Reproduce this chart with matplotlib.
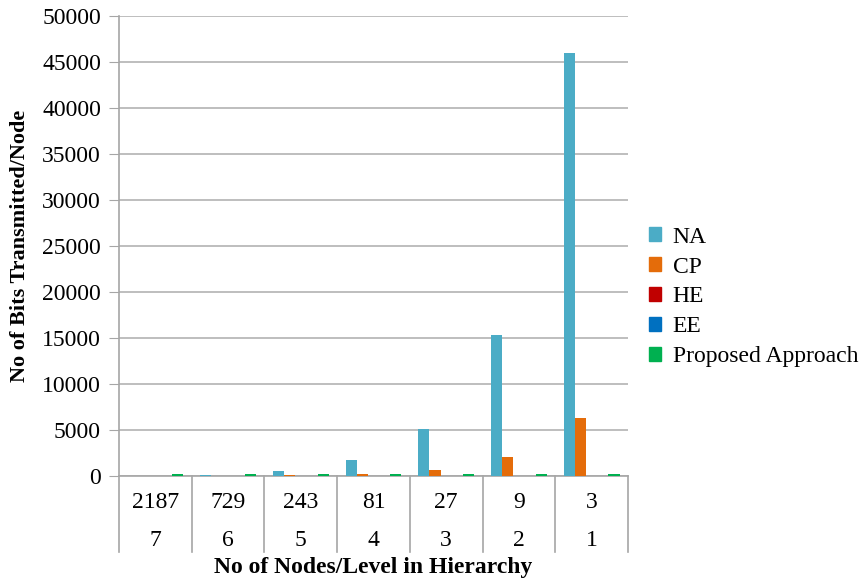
import numpy as np
from matplotlib import pyplot as plt
from matplotlib.patches import Patch
import matplotlib.transforms as mtransforms

plt.rcParams['font.family'] = ['Liberation Serif', 'DejaVu Serif']

# data
nodes = ['2187', '729', '243', '81', '27', '9', '3']
levels = ['7', '6', '5', '4', '3', '2', '1']
series = ['NA', 'CP', 'HE', 'EE', 'Proposed Approach']
na = [7, 63, 567, 1701, 5103, 15309, 45927]
cp = [9, 26, 78, 233, 700, 2100, 6318]
he = [10, 10, 10, 10, 10, 10, 10]
ee = [10, 10, 10, 10, 10, 10, 10]
proposed = [200, 200, 200, 200, 200, 200, 200]
colors = ['#4BACC6', '#E46C0A', '#C00000', '#0070C0', '#00B050']

fig = plt.figure(figsize=(8.67, 5.83), dpi=100)
ax = fig.add_axes([119/867, 1-476/583, (628-119)/867, (476-16)/583])

x = np.arange(len(nodes))
bw = 1/6.5
for i, (vals, c) in enumerate(zip([na, cp, he, ee, proposed], colors)):
    ax.bar(x + (i-2)*bw, vals, bw, color=c, zorder=3)

ax.set_xlim(-0.5, 6.5)
ax.set_ylim(0, 50000)
ax.set_yticks(np.arange(0, 50001, 5000))
ax.yaxis.grid(True, color='#b3b3b3', linewidth=1.2, zorder=0)
for s in ['top', 'right']:
    ax.spines[s].set_visible(False)
ax.spines['left'].set_color('#a6a6a6')
ax.spines['bottom'].set_color('#a6a6a6')
ax.spines['left'].set_linewidth(1.2)
ax.spines['bottom'].set_linewidth(1.2)
ax.tick_params(axis='y', length=7, color='#a6a6a6', labelsize=17, pad=6)
ax.set_xticks([])

# category table below axis
trans = mtransforms.blended_transform_factory(ax.transData, ax.transAxes)
for b in np.arange(-0.5, 7, 1):
    ax.plot([b, b], [0, -76/460], transform=trans, color='#a6a6a6',
            linewidth=1.2, clip_on=False)
for xi, n, l in zip(x, nodes, levels):
    ax.text(xi, -27/460, n, transform=trans, ha='center', va='center', fontsize=17)
    ax.text(xi, -64/460, l, transform=trans, ha='center', va='center', fontsize=17)

fig.text((119+628)/2/867, 1-568/583, 'No of Nodes/Level in Hierarchy',
         ha='center', va='center', fontsize=17, fontweight='bold')
fig.text(20/867, 1-246/583, 'No of Bits Transmitted/Node', rotation=90,
         ha='center', va='center', fontsize=16, fontweight='bold')

handles = [Patch(color=c) for c in colors]
fig.legend(handles, series, loc='center left', bbox_to_anchor=(649/867, 1-297/583),
           frameon=False, fontsize=17, handlelength=0.5, handleheight=0.5,
           handletextpad=0.5, labelspacing=0.38, borderpad=0, borderaxespad=0)

fig.savefig('out.png', dpi=100)
